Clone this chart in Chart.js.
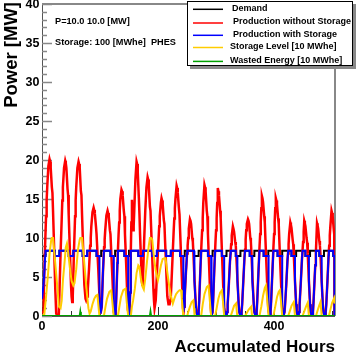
<!DOCTYPE html>
<html>
<head>
<meta charset="utf-8">
<script src="https://cdn.jsdelivr.net/npm/chart.js@4/dist/chart.umd.min.js"></script>
<style>
  html, body { margin: 0; padding: 0; background: #fff; }
  canvas { display: block; }
</style>
</head>
<body>
<canvas id="chart" width="356" height="353"></canvas>
<script>
// Storage simulation plot: hourly power over 21 days

// ── Data (hour, value) ──────────────────────────────────────
const yTicks = [0, 5, 10, 15, 20, 25, 30, 35, 40];
const xTicks = [0, 200, 400];

const demand = [
  [0,7.7],[6,8.35],[22,7.7],[30,8.35],[46,7.7],[54,8.35],[70,7.7],[78,8.35],[94,7.7],[102,8.35],
  [118,7.7],[126,8.35],[142,7.7],[150,8.35],[166,7.7],[174,8.35],[190,7.7],[198,8.35],[214,7.7],[222,8.35],
  [238,7.7],[246,8.35],[262,7.7],[270,8.35],[286,7.7],[294,8.35],[310,7.7],[318,8.35],[334,7.7],[342,8.35],
  [358,7.7],[366,8.35],[382,7.7],[390,8.35],[406,7.7],[414,8.35],[430,7.7],[438,8.35],[454,7.7],[462,8.35],
  [478,7.7],[486,8.35],[502,7.7],[504,7.7]
];

const prodNoStorage = [
  [0,0.4],[2,0.5],[3,2.8],[5,8.3],[7,12.8],[8,14.8],[9,16.5],[11,19.2],[13,20.1],[14,19.8],[15,19],[17,16.5],[18,15.8],[19,13.5],[21,8.5],[23,3.2],[24.5,0.3],
  [27,0],[29,0.2],[30,2.8],[32,8],[34,12.5],[35,14.8],[36,16.5],[38,19],[40,19.9],[41,19.6],[42,19],[44,16.3],[45,15.5],[46,13],[48,8.5],[50,4],[51,2.5],[52,1.8],
  [53,2.5],[55,8],[57,12.8],[58,14.8],[59,16.5],[61,19],[63,19.8],[64,19.5],[65,19],[67,16],[68,15.5],[69,13],[71,8.5],[73,4],[75,2.2],[76,2],
  [78,2.5],[79,3.5],[81,6],[83,9],[84,10],[85,11.5],[87,13.3],[89,13.9],[90,13.6],[91,13.2],[93,11.5],[94,10.5],[95,9],[97,6],[99,2.5],[100,1],[101,0.3],
  [103,1.2],[105,5.5],[107,8.8],[108,9.8],[109,11],[111,12.9],[113,13.5],[114,13.2],[115,12.8],[117,11],[118,10.5],[119,8.8],[121,5.5],[123,2],[124,0.5],[125,0],
  [126,0],[127,0.3],[128,2.3],[130,6.8],[132,10.5],[133,12],[134,13.5],[135,15],[137,16.2],[138,16],[139,15.5],[141,13.5],[142,12.8],[143,10.5],[145,6.8],[147,2.5],[148,0.8],[150,0.2],
  [151,1],[152,3],[153,8],[154,12],[155,14.9],[156,12.5],[157,11],[158,11.5],[159,13.5],[161,17.5],[163,19.8],[164,19.5],[165,18.5],[167,15],[168,13],[169,10.5],[171,6.5],[172,4.5],[173,4],
  [174,5],[175,7],[176,9.5],[178,13.5],[180,16.5],[182,17.8],[183,17.5],[184,16.8],[186,14],[187,13.5],[188,11.5],[190,7.5],[192,3.5],[193,2],[194,1],
  [196,2],[197,3.5],[199,7],[201,10],[202,11.5],[203,12.8],[205,14.6],[206,15.1],[207,14.8],[208,14.3],[210,12.3],[211,11.8],[212,9.8],[214,6.2],[216,2.5],[218,1.5],[220,1.5],
  [221,2],[222,2.5],[223,4],[225,7.5],[227,11],[228,12.5],[229,13.8],[230,15],[232,16.7],[233,16.4],[234,15.8],[236,13.8],[237,13],[238,11],[240,7],[242,3],[243,1],[244,0.5],
  [245,1.2],[246,2.5],[248,5.5],[250,8],[251,9],[252,10],[253,11.2],[255,12.4],[256,12.2],[257,11.8],[259,10],[260,9.5],[261,8],[263,4.5],[265,1.5],[266,0.5],[268,0],
  [269,0],[270,0.5],[271,2],[273,6],[275,9.5],[276,11],[277,12.5],[278,14.5],[280,16.8],[281,16.5],[282,16],[284,13.5],[285,12.8],[286,10.5],[288,6.5],[290,2.5],[291,1],[292,0],
  [293,0],[294,0.5],[295,2],[297,6],[299,9.5],[300,11],[301,12.5],[302,14.5],[303,16.4],[304,16],[305,15.5],[307,13.5],[308,12.5],[309,10.5],[311,6.5],[313,2.5],[314,1],[316,0],
  [318,0],[319,0.5],[320,1.5],[322,4],[324,7],[325,8],[326,9.2],[327,10.3],[329,11.5],[330,11.2],[331,10.8],[333,9.5],[334,9],[335,7.5],[337,4.5],[339,1.5],[340,0.5],[342,0],
  [343,0],[344,0.5],[345,1.5],[347,4.5],[349,7.5],[350,8.5],[351,9.8],[352,11],[353,11.8],[355,12.4],[356,12.2],[357,11.8],[359,10],[360,9.5],[361,8],[363,4.5],[365,1.5],[366,0.5],[368,0],
  [369,0],[370,0.5],[371,2],[373,5.5],[375,9],[376,10.5],[377,12],[378,13.8],[379,15.4],[380,15.1],[381,14.6],[383,12.8],[384,12],[385,10],[387,6.2],[389,2.5],[390,1],[392,0],
  [393,0],[394,0.5],[395,2],[397,5.5],[399,9],[400,10.5],[401,12],[402,13.8],[403,15.1],[404,14.8],[405,14.3],[407,12.5],[408,11.8],[409,9.8],[411,6],[413,2.5],[414,1],[416,0],
  [417,0],[418,0.5],[419,1.5],[421,4],[423,7],[424,8],[425,9.2],[426,10.5],[428,12],[429,11.7],[430,11.3],[432,9.8],[433,9.2],[434,7.8],[436,4.5],[438,1.5],[439,0.5],[441,0],
  [442,0],[443,0.5],[444,1.5],[446,4.2],[448,7.2],[449,8.3],[450,9.5],[451,10.8],[452,12.2],[453,11.9],[454,11.5],[456,10],[457,9.4],[458,8],[460,4.5],[462,1.5],[463,0.5],[465,0],
  [466,0],[467,0.5],[468,1.8],[470,5],[471,6.5],[472,8],[473,10],[474,11.9],[475,11.6],[476,11.2],[478,9.6],[479,9],[480,7.8],[482,4.5],[484,1.5],[485,0.5],[487,0],
  [488,0],[489,0.5],[490,1.5],[492,4.5],[494,7.8],[495,9],[496,10.3],[497,11.5],[499,13.5],[500,13.2],[501,12.8],[503,11],[503.7,10.5],[504,0]
];

const prodWithStorage = [
  [0,2.2],[2,3.5],[4,5.5],[5.5,7.7],[6,7.7],[6,8.35],[22,8.35],[22,7.7],[30,7.7],[30,8.35],[46,8.35],[46,7.7],[54,7.7],[54,8.35],
  [70,8.35],[70,7.7],[78,7.7],[78,8.35],[94,8.35],[94,7.7],[99,7.7],[99,2.5],[100,1],[101,0.3],[103,1.2],[105,5.5],[106.7,8.35],
  [118,8.35],[118,7.7],[123.5,7.7],[123.5,1.2],[124,0.5],[125,0],[126,0],[127,0.3],[128,2.3],[130,6.8],[130.8,8.35],
  [142,8.35],[142,7.7],[148.5,7.7],[148.5,0.6],[150,0.2],[151,1],[152,3],[153.1,8.35],
  [166,8.35],[166,7.7],[174,7.7],[174,8.35],[190,8.35],[190,7.7],[198,7.7],[198,8.35],[214,8.35],[214,7.7],[222,7.7],[222,8.35],
  [238,8.35],[238,7.7],[243.5,7.7],[243.5,0.7],[244,0.5],[245,1.2],[246,2.5],[248,5.5],[250,8],[250.35,8.35],
  [262,8.35],[262,7.7],[263,7.7],[263,4.5],[265,1.5],[266,0.5],[268,0],[269,0],[270,0.5],[271,2],[273,6],[274.3,8.35],
  [286,8.35],[286,7.7],[291.5,7.7],[291.5,0.5],[292,0],[293,0],[294,0.5],[295,2],[297,6],[298.4,8.35],
  [310,8.35],[310,7.7],[314,7.7],[314,1],[316,0],[318,0],[319,0.5],[320,1.5],[322,4],[324,7],[325,8],[325.3,8.35],
  [334,8.35],[334,7.7],[336.5,7.7],[336.5,5.3],[337,4.5],[339,1.5],[340,0.5],[342,0],[343,0],[344,0.5],[345,1.5],[347,4.5],[349,7.5],[349.9,8.35],
  [358,8.35],[358,7.7],[362,7.7],[362,6.2],[363,4.5],[365,1.5],[366,0.5],[368,0],[369,0],[370,0.5],[371,2],[373,5.5],[374.8,8.35],
  [382,8.35],[382,7.7],[390.5,7.7],[390.5,0.7],[392,0],[393,0],[394,0.5],[395,2],[397,5.5],[398.8,8.35],
  [406,8.35],[406,7.7],[414,7.7],[414,1],[416,0],[417,0],[418,0.5],[419,1.5],[421,4],[423,7],[424.3,8.35],
  [430,8.35],[430,7.7],[436,7.7],[436,4.5],[438,1.5],[439,0.5],[441,0],[442,0],[443,0.5],[444,1.5],[446,4.2],[448,7.2],[449,8.35],
  [454,8.35],[454,7.7],[460,7.7],[460,4.5],[462,1.5],[463,0.5],[465,0],[466,0],[467,0.5],[468,1.8],[470,5],[471,6.5],[472.2,8.35],
  [478,8.35],[478,7.7],[482,7.7],[482,4.5],[484,1.5],[485,0.5],[487,0],[488,0],[489,0.5],[490,1.5],[492,4.5],[494,7.8],[494.4,8.35],
  [502,8.35],[502,7.7],[504,7.7],[504,0]
];

// storage level in units of 10 MWhe
const storageLevel = [
  [0,0],[4,0.2],[7,2.5],[10,5],[13,8],[16,9.8],[17,10],[19,10],[21,8.3],[24,5.8],[27,3.2],[29,1.2],[32,1.0],[34,2],[36,4.5],
  [39,7],[41,8.8],[43,9.3],[45,8.2],[48,6.2],[51,4.5],[54,3.9],[56,4.2],[59,6],[62,8.5],[65,9.8],[66,10],[69,10],[71,8.4],
  [74,5.8],[77,3.2],[80,1.0],[82,0.3],[84,0.6],[87,1.5],[90,2.2],[93,2.6],[95.5,2.7],[97,1.5],[99,0],[106.7,0],[109,1],
  [112,2.2],[116,3.1],[119.3,3.3],[121,2],[123.5,0],[130.8,0],[133,1],[136,2.4],[140,3.3],[144,3.5],[146,1.8],[148.5,0],
  [153.1,0],[155,1.2],[157,2],[160,3.5],[163,5.5],[166,6.5],[168,6.3],[170,5],[173,3.8],[175.5,3.4],[178,4.8],[181,7],
  [184,9],[186,10],[188,10],[190,9.8],[193,7.5],[196,5.8],[199.9,4.6],[202,5.3],[205,6.5],[208,7.3],[211,7.4],[212.8,7.4],
  [216,5.6],[219,4],[222,2.6],[225.5,1.6],[228,2.2],[231,2.8],[234,3.1],[237,3.3],[239.7,3.3],[241,2.2],[243.5,0],
  [250.35,0],[252,0.5],[255,1.2],[258,1.8],[260.7,2],[262,1],[263,0],[274.3,0],[277,1.5],[280,2.8],[284,3.7],[287,3.9],
  [289,2.2],[291.5,0],[298.4,0],[301,1],[304,2.2],[307,3],[310,3.3],[312,1.8],[314,0],[325.3,0],[328,0.6],[331,1.3],
  [334.5,1.6],[336.5,0],[349.9,0],[353,0.4],[356,0.8],[360.5,1.2],[362,0],[374.8,0],[378,1.2],[381,2.6],[384,3.6],
  [386,3.9],[388,2.3],[390.5,0],[398.8,0],[402,1.2],[405,2.4],[408,3.1],[410,3.3],[412,1.8],[414,0],[424.3,0],[427,0.6],
  [430,1.3],[434,1.8],[436,0],[449,0],[452,0.6],[455,1.2],[458,1.7],[460,0],[472.2,0],[475,0.7],[478,1.4],[480,1.8],
  [482,0],[494.4,0],[497,0.8],[500,1.7],[503.5,2.3],[504.5,1.6]
];

const wastedEnergy = [[0,0],[65,0],[66,0.5],[67,0],[186,0],[187,0.5],[188,0],[504.5,0]];

const seriesNames = ['Demand', 'Production without Storage', 'Production with Storage',
  'Storage Level [10 MWhe]', 'Wasted Energy [10 MWhe]'];
const seriesColors = ['#000000', '#ff0000', '#0000ff', '#ffcc00', '#00a000'];
const seriesWidths = [2, 2.5, 2, 2, 2];

// ── ROOT-like frame, axes, legend ───────────────────────────
const FONT = '"Liberation Sans", Arial, Helvetica, sans-serif';

const rootStyle = {
  id: 'rootStyle',
  beforeDatasetsDraw(chart) {
    const { ctx, chartArea: a, scales: { x, y } } = chart;
    ctx.save();
    // frame
    ctx.strokeStyle = '#888';
    ctx.lineWidth = 2;
    ctx.beginPath();
    ctx.moveTo(a.left, a.top); ctx.lineTo(a.right, a.top); ctx.lineTo(a.right, a.bottom);
    ctx.stroke();
    ctx.lineWidth = 1;
    ctx.strokeStyle = '#555';
    ctx.beginPath();
    ctx.moveTo(a.left + 0.5, a.top); ctx.lineTo(a.left + 0.5, a.bottom);
    ctx.moveTo(a.left, a.bottom + 0.5); ctx.lineTo(a.right, a.bottom + 0.5);
    ctx.stroke();

    // y ticks every 1 MW, major at labels
    ctx.strokeStyle = '#888';
    ctx.lineWidth = 1.5;
    ctx.beginPath();
    for (let v = 0; v <= 40; v++) {
      const py = Math.round(y.getPixelForValue(v)) + 0.5;
      const len = yTicks.includes(v) ? 10 : 5;
      ctx.moveTo(a.left, py); ctx.lineTo(a.left + len, py);
    }
    ctx.stroke();
    // x ticks every 50 h
    ctx.strokeStyle = '#333';
    ctx.lineWidth = 1;
    ctx.beginPath();
    for (let v = 0; v <= 500; v += 50) {
      const px = Math.round(x.getPixelForValue(v)) + 0.5;
      const len = xTicks.includes(v) ? 9 : 5;
      ctx.moveTo(px, a.bottom); ctx.lineTo(px, a.bottom - len);
    }
    ctx.stroke();
    ctx.restore();
  },
  afterDraw(chart) {
    const { ctx, chartArea: a, scales: { x, y } } = chart;
    ctx.save();
    ctx.fillStyle = '#000';

    // tick labels
    ctx.font = 'bold 12.5px ' + FONT;
    ctx.textAlign = 'right';
    ctx.textBaseline = 'middle';
    yTicks.forEach(v => ctx.fillText(String(v), 39.5, y.getPixelForValue(v) + 0.5));
    ctx.textAlign = 'center';
    ctx.textBaseline = 'alphabetic';
    xTicks.forEach(v => ctx.fillText(String(v), x.getPixelForValue(v), 329.5));

    // axis titles
    ctx.font = 'bold 17px ' + FONT;
    ctx.textAlign = 'right';
    ctx.fillText('Accumulated Hours', a.right, 351.5);
    ctx.font = 'bold 18.5px ' + FONT;
    ctx.save();
    ctx.translate(17, 2);
    ctx.rotate(-Math.PI / 2);
    ctx.fillText('Power [MW]', 0, 0);
    ctx.restore();

    // text annotations
    ctx.font = 'bold 9.2px ' + FONT;
    ctx.textAlign = 'left';
    ctx.textBaseline = 'middle';
    ctx.fillText('P=10.0 10.0 [MW]', 55, 21.7);
    ctx.fillText('Storage: 100 [MWhe]  PHES', 55, 42.7);

    // legend box with shadow
    const bx = 187, by = 1, bw = 166, bh = 65;
    ctx.fillStyle = '#888';
    ctx.fillRect(bx + 3, by + 3, bw, bh);
    ctx.fillStyle = '#fff';
    ctx.fillRect(bx, by, bw, bh);
    ctx.strokeStyle = '#000';
    ctx.lineWidth = 1;
    ctx.strokeRect(bx + 0.5, by + 0.5, bw - 1, bh - 1);

    const rows = [8.3, 22, 34.3, 46.5, 60.4];
    const textX = [232, 233, 233, 230, 230];
    ctx.font = 'bold 9px ' + FONT;
    seriesNames.forEach((name, i) => {
      ctx.strokeStyle = seriesColors[i];
      ctx.lineWidth = 1.5;
      ctx.beginPath();
      ctx.moveTo(193, rows[i] + 1); ctx.lineTo(223, rows[i] + 1);
      ctx.stroke();
      ctx.fillStyle = '#000';
      ctx.fillText(name, textX[i], rows[i]);
    });
    ctx.restore();
  }
};

// ── Chart ───────────────────────────────────────────────────
const toXY = pts => pts.map(p => ({ x: p[0], y: p[1] }));
const allSeries = [demand, prodNoStorage, prodWithStorage, storageLevel, wastedEnergy];

new Chart(document.getElementById('chart').getContext('2d'), {
  type: 'line',
  data: {
    datasets: allSeries.map((pts, i) => ({
      label: seriesNames[i],
      data: toXY(pts),
      borderColor: seriesColors[i],
      borderWidth: seriesWidths[i],
      stepped: i === 0,
      order: 4 - i,
      pointRadius: 0,
      tension: 0,
      fill: false
    }))
  },
  options: {
    responsive: false,
    animation: false,
    devicePixelRatio: 1,
    layout: { padding: { left: 42, top: 4, right: 21, bottom: 37 } },
    plugins: { legend: { display: false }, tooltip: { enabled: false } },
    scales: {
      x: { type: 'linear', min: 0, max: 505, display: false },
      y: { type: 'linear', min: 0, max: 40, display: false }
    }
  },
  plugins: [rootStyle]
});
</script>
</body>
</html>
